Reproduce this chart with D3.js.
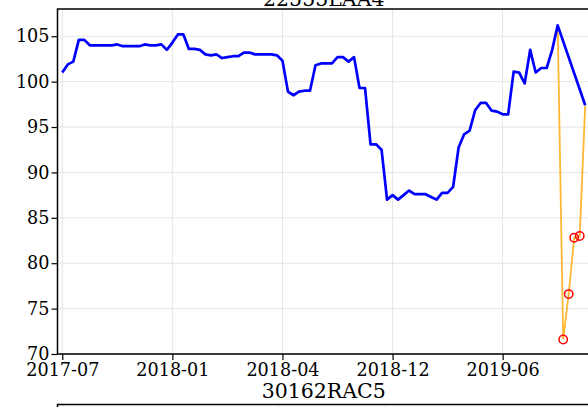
<!DOCTYPE html>
<html>
<head>
  <meta charset="utf-8">
  <title> 22555LAA4 </title>
  <style>
    body { margin: 0; background: white; }
    svg  { display: block; font-family: "DejaVu Serif", serif; }
    .grid line { stroke: #e5e5e5; stroke-width: 1; }
    .axis path { display: none; }
    .axis line { stroke: black; stroke-width: 1.2; }
    .axis text { font-size: 17.6px; fill: black; font-family: "DejaVu Serif", serif; }
    .spine     { stroke: black; stroke-width: 1.5; fill: none; }
    .title     { font-size: 20.5px; fill: black; }
  </style>
</head>
<body>

<script src="https://d3js.org/d3.v7.min.js"></script>

<script>

// observation index on the x axis; dates only show up as tick labels
var tickIdx    = [0, 20, 40, 60, 80];
var tickLabels = ["2017-07", "2018-01", "2018-04", "2018-12", "2019-06"];
var yTicks     = [70, 75, 80, 85, 90, 95, 100, 105];

// price series (blue), index 0..90 then 95 (91-94 missing)
var priceIdx = [];
for (var k = 0; k <= 90; k++) priceIdx.push(k);
priceIdx.push(95);
var priceVal = [
  101.0, 101.9, 102.2, 104.6, 104.6, 104.0, 104.0, 104.0, 104.0, 104.0,
  104.1, 103.9, 103.9, 103.9, 103.9, 104.1, 104.0, 104.0, 104.1, 103.5,
  104.3, 105.2, 105.2, 103.6, 103.6, 103.5, 103.0, 102.9, 103.0, 102.6,
  102.7, 102.8, 102.8, 103.2, 103.2, 103.0, 103.0, 103.0, 103.0, 102.9,
  102.3, 98.9, 98.5, 98.9, 99.0, 99.0, 101.8, 102.0, 102.0, 102.0,
  102.7, 102.7, 102.2, 102.7, 99.3, 99.3, 93.1, 93.1, 92.5, 87.0,
  87.5, 87.0, 87.5, 88.0, 87.6, 87.6, 87.6, 87.3, 87.0, 87.75,
  87.75, 88.4, 92.75, 94.2, 94.6, 96.85, 97.65, 97.65, 96.8, 96.7,
  96.4, 96.4, 101.1, 101.0, 99.8, 103.5, 101.0, 101.5, 101.5, 103.5,
  106.2, 97.4
];

// filled-in stretch (orange), circles on the filled points
var fillIdx  = [90, 91, 92, 93, 94, 95];
var fillVal  = [106.2, 71.6, 76.6, 82.8, 83.0, 97.4];
var markIdx  = [91, 92, 93, 94];
var markVal  = [71.6, 76.6, 82.8, 83.0];

// next panel, only its top edge is in view
var nextTitle = "30162RAC5";
var nextGridX = [63, 170.7, 278.2, 385.7, 493.3];

var W = 588, H = 407;
var mLeft = 57.5, mRight = 590, mTop = 9, mBottom = 354;

var svg = d3.select("body").append("svg")
  .attr("width", W)
  .attr("height", H);

var x = d3.scaleLinear()
  .domain([-0.87, 95.87])
  .range([mLeft, mRight]);

var y = d3.scaleLinear()
  .domain([70, 108])
  .range([mBottom, mTop]);

// grid
var grid = svg.append("g").attr("class", "grid");
grid.selectAll(".gx").data(tickIdx).enter().append("line")
  .attr("x1", d => x(d)).attr("x2", d => x(d))
  .attr("y1", mTop).attr("y2", mBottom);
grid.selectAll(".gy").data(yTicks).enter().append("line")
  .attr("x1", mLeft).attr("x2", mRight)
  .attr("y1", d => y(d)).attr("y2", d => y(d));

// lines
var blue = priceIdx.map((d, i) => [d, priceVal[i]]);
var orange = fillIdx.map((d, i) => [d, fillVal[i]]);
var marks = markIdx.map((d, i) => [d, markVal[i]]);

var line = d3.line()
  .x(d => x(d[0]))
  .y(d => y(d[1]));

svg.append("path")
  .datum(orange)
  .attr("d", line)
  .attr("fill", "none")
  .attr("stroke", "#ffa500")
  .attr("stroke-opacity", 0.8)
  .attr("stroke-width", 1.8);

svg.append("path")
  .datum(blue)
  .attr("d", line)
  .attr("fill", "none")
  .attr("stroke", "#0000ff")
  .attr("stroke-width", 2.7)
  .attr("stroke-linejoin", "round");

svg.selectAll("circle.mark")
  .data(marks)
  .enter()
  .append("circle")
  .attr("class", "mark")
  .attr("cx", d => x(d[0]))
  .attr("cy", d => y(d[1]))
  .attr("r", 4.2)
  .attr("fill", "none")
  .attr("stroke", "red")
  .attr("stroke-width", 1.5);

// axes
var xAxis = d3.axisBottom(x)
  .tickValues(tickIdx)
  .tickFormat((d, i) => tickLabels[i])
  .tickSize(6)
  .tickPadding(4);
svg.append("g")
  .attr("class", "axis")
  .attr("transform", "translate(0," + mBottom + ")")
  .call(xAxis);

var yAxis = d3.axisLeft(y)
  .tickValues(yTicks)
  .tickSize(6)
  .tickPadding(2);
svg.append("g")
  .attr("class", "axis")
  .attr("transform", "translate(" + mLeft + ",0)")
  .call(yAxis);

// spines
svg.append("path")
  .attr("class", "spine")
  .attr("d", "M" + mRight + "," + mTop + "H" + mLeft + "V" + mBottom + "H" + mRight);

svg.append("text")
  .attr("class", "title")
  .attr("x", (mLeft + mRight) / 2)
  .attr("y", 6)
  .attr("text-anchor", "middle")
  .text("22555LAA4");

// top of the next panel
var top2 = 404.5;
svg.append("g").attr("class", "grid")
  .selectAll("line").data(nextGridX).enter().append("line")
  .attr("x1", d => d).attr("x2", d => d)
  .attr("y1", top2).attr("y2", H);
svg.append("path")
  .attr("class", "spine")
  .attr("d", "M" + mRight + "," + top2 + "H" + mLeft + "V" + (H + 2));
svg.append("text")
  .attr("class", "title")
  .attr("x", (mLeft + mRight) / 2)
  .attr("y", 398)
  .attr("text-anchor", "middle")
  .text(nextTitle);

</script>

</body>
</html>
